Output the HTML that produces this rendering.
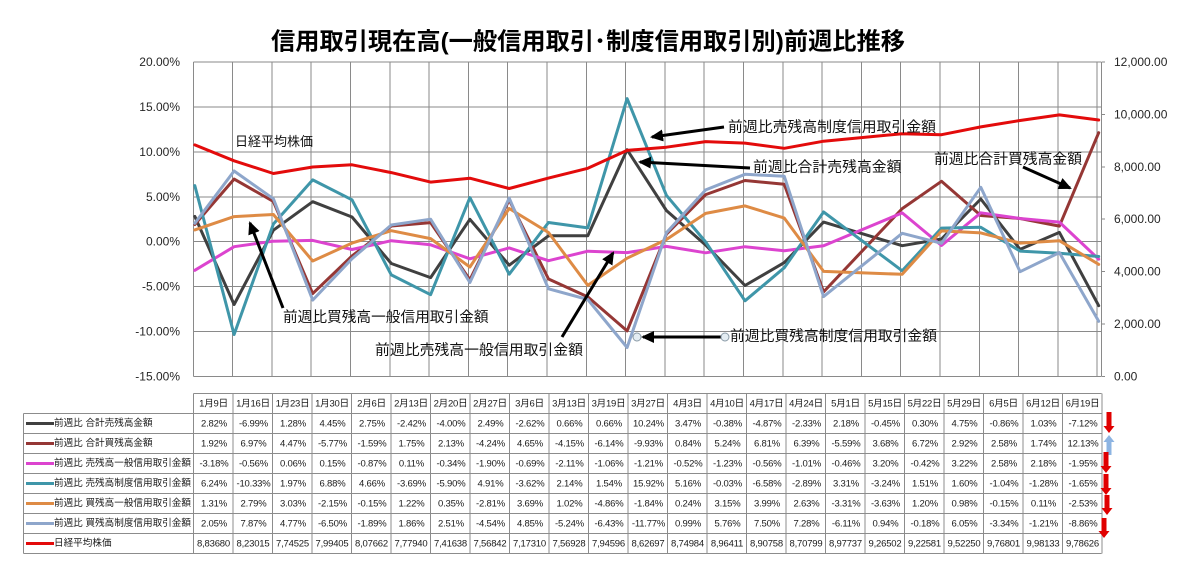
<!DOCTYPE html>
<html><head><meta charset="utf-8"><style>
html,body{margin:0;padding:0;background:#fff;}
svg{display:block;}
.ax{font-family:"Liberation Sans",sans-serif;font-size:12px;fill:#262626;}
.an{font-family:"Liberation Sans","Noto Sans CJK JP",sans-serif;font-size:14.5px;fill:#111;}
.tb{font-family:"Liberation Sans","Noto Sans CJK JP",sans-serif;font-size:9.5px;fill:#1a1a1a;letter-spacing:-0.2px;}
.lb{font-family:"Liberation Sans","Noto Sans CJK JP",sans-serif;font-size:9.6px;fill:#1a1a1a;}
.s{fill:none;stroke-width:3;stroke-linejoin:round;stroke-linecap:round;}
</style></head><body>
<svg width="1200" height="577" viewBox="0 0 1200 577" xmlns="http://www.w3.org/2000/svg">
<defs>
<marker id="ah" markerUnits="userSpaceOnUse" markerWidth="14" markerHeight="12" refX="11" refY="6" orient="auto">
<path d="M0,0 L13,6 L0,12 z" fill="#000"/>
</marker>
</defs>
<rect width="1200" height="577" fill="#fff"/>
<!-- title -->
<text x="588" y="42" text-anchor="middle" dominant-baseline="central" textLength="634" lengthAdjust="spacingAndGlyphs" style="font-family:'Liberation Sans','Noto Sans CJK JP',sans-serif;font-size:24px;font-weight:bold;fill:#000;">信用取引現在高(一般信用取引･制度信用取引別)前週比推移</text>

<!-- gridlines -->
<g stroke="#8a8a8a" stroke-width="1" fill="none" shape-rendering="crispEdges">
<path d="M193.3 62H1101M193.3 106.9H1101M193.3 151.9H1101M193.3 196.8H1101M193.3 241.7H1101M193.3 286.6H1101M193.3 331.6H1101M193.3 376.5H1101"/>
<path d="M193.3 62V376.5M232.6 62V376.5M271.9 62V376.5M311.2 62V376.5M350.5 62V376.5M389.8 62V376.5M429.1 62V376.5M468.4 62V376.5M507.7 62V376.5M547 62V376.5M586.3 62V376.5M625.6 62V376.5M664.9 62V376.5M704.2 62V376.5M743.5 62V376.5M782.8 62V376.5M822.1 62V376.5M861.4 62V376.5M900.7 62V376.5M940 62V376.5M979.3 62V376.5M1018.6 62V376.5M1057.9 62V376.5M1097.2 62V376.5M1101.5 62V376.5"/>
<path d="M1101.5 62H1105M1101.5 114.4H1105M1101.5 166.8H1105M1101.5 219.2H1105M1101.5 271.7H1105M1101.5 324.1H1105M1101.5 376.5H1105"/>
</g>

<!-- left axis labels -->
<g class="ax" text-anchor="end" dominant-baseline="central">
<text x="180" y="62">20.00%</text>
<text x="180" y="106.9">15.00%</text>
<text x="180" y="151.9">10.00%</text>
<text x="180" y="196.8">5.00%</text>
<text x="180" y="241.7">0.00%</text>
<text x="180" y="286.6">-5.00%</text>
<text x="180" y="331.6">-10.00%</text>
<text x="180" y="376.5">-15.00%</text>
</g>
<!-- right axis labels -->
<g class="ax" dominant-baseline="central">
<text x="1114" y="62">12,000.00</text>
<text x="1114" y="114.4">10,000.00</text>
<text x="1114" y="166.8">8,000.00</text>
<text x="1114" y="219.2">6,000.00</text>
<text x="1114" y="271.7">4,000.00</text>
<text x="1114" y="324.1">2,000.00</text>
<text x="1114" y="376.5">0.00</text>
</g>

<!-- series -->
<polyline class="s" stroke="#404040" points="194.8,216.4 234.1,304.5 273.4,230.2 312.7,201.7 352.0,217.0 391.3,263.5 430.6,277.6 469.9,219.3 509.2,265.2 548.5,235.8 587.8,235.8 627.1,149.7 666.4,210.5 705.7,245.1 745.0,285.5 784.3,262.6 823.6,222.1 902.2,245.7 941.5,239.0 980.8,199.0 1020.1,249.4 1059.4,232.4 1098.7,305.7"/>
<polyline class="s" stroke="#953735" points="194.8,224.5 234.1,179.1 273.4,201.5 312.7,293.6 352.0,256.0 391.3,226.0 430.6,222.6 469.9,279.8 509.2,199.9 548.5,279.0 587.8,296.9 627.1,330.9 666.4,234.2 705.7,194.6 745.0,180.5 784.3,184.3 823.6,291.9 902.2,208.6 941.5,181.3 980.8,215.5 1020.1,218.5 1059.4,226.1 1098.7,132.7"/>
<polyline class="s" stroke="#dc44cf" points="194.8,270.3 234.1,246.7 273.4,241.2 312.7,240.4 352.0,249.5 391.3,240.7 430.6,244.8 469.9,258.8 509.2,247.9 548.5,260.7 587.8,251.2 627.1,252.6 666.4,246.4 705.7,252.8 745.0,246.7 784.3,250.8 823.6,245.8 902.2,212.9 941.5,245.5 980.8,212.8 1020.1,218.5 1059.4,222.1 1098.7,259.2"/>
<polyline class="s" stroke="#3f96a9" points="194.8,185.6 234.1,334.5 273.4,224.0 312.7,179.9 352.0,199.8 391.3,274.9 430.6,294.7 469.9,197.6 509.2,274.2 548.5,222.5 587.8,227.9 627.1,98.6 666.4,195.3 705.7,242.0 745.0,300.8 784.3,267.7 823.6,212.0 902.2,270.8 941.5,228.1 980.8,227.3 1020.1,251.1 1059.4,253.2 1098.7,256.5"/>
<polyline class="s" stroke="#de8b45" points="194.8,229.9 234.1,216.6 273.4,214.5 312.7,261.0 352.0,243.1 391.3,230.7 430.6,238.6 469.9,267.0 509.2,208.5 548.5,232.5 587.8,285.4 627.1,258.2 666.4,239.5 705.7,213.4 745.0,205.9 784.3,218.1 823.6,271.4 902.2,274.3 941.5,230.9 980.8,232.9 1020.1,243.1 1059.4,240.7 1098.7,264.4"/>
<polyline class="s" stroke="#8ea6cb" points="194.8,223.3 234.1,171.0 273.4,198.8 312.7,300.1 352.0,258.7 391.3,225.0 430.6,219.2 469.9,282.5 509.2,198.1 548.5,288.8 587.8,299.5 627.1,347.5 666.4,232.8 705.7,189.9 745.0,174.3 784.3,176.3 823.6,296.6 902.2,233.3 941.5,243.3 980.8,187.3 1020.1,271.7 1059.4,252.6 1098.7,321.3"/>
<polyline class="s" stroke="#e30b0b" stroke-width="3.5" points="194.8,144.9 234.1,160.8 273.4,173.5 312.7,167.0 352.0,164.8 391.3,172.6 430.6,182.1 469.9,178.2 509.2,188.5 548.5,178.1 587.8,168.3 627.1,150.4 666.4,147.2 705.7,141.6 745.0,143.1 784.3,148.3 823.6,141.2 902.2,133.7 941.5,134.7 980.8,126.9 1020.1,120.5 1059.4,114.9 1098.7,120.0"/>

<!-- annotations -->
<g class="an" dominant-baseline="central">
<text x="235" y="141.5" style="font-size:13px" textLength="78" lengthAdjust="spacingAndGlyphs">日経平均株価</text>
<text x="728" y="128" textLength="208" lengthAdjust="spacingAndGlyphs">前週比売残高制度信用取引金額</text>
<text x="753" y="168" textLength="148.5" lengthAdjust="spacingAndGlyphs">前週比合計売残高金額</text>
<text x="934" y="160" textLength="148" lengthAdjust="spacingAndGlyphs">前週比合計買残高金額</text>
<text x="283" y="318" textLength="205.6" lengthAdjust="spacingAndGlyphs">前週比買残高一般信用取引金額</text>
<text x="375" y="351" textLength="208" lengthAdjust="spacingAndGlyphs">前週比売残高一般信用取引金額</text>
<text x="730" y="337" textLength="207" lengthAdjust="spacingAndGlyphs">前週比買残高制度信用取引金額</text>
</g>
<g stroke="#000" stroke-width="3" fill="none" marker-end="url(#ah)">
<line x1="724" y1="127" x2="652" y2="137"/>
<line x1="750" y1="168" x2="640" y2="162"/>
<line x1="1023" y1="167" x2="1070" y2="188"/>
<line x1="283" y1="308" x2="250" y2="223"/>
<line x1="562" y1="337" x2="613" y2="253"/>
<line x1="724" y1="337" x2="643" y2="337"/>
</g>
<circle cx="725" cy="337" r="4" fill="#e4edf3" stroke="#8a9aa6" stroke-width="1"/>
<circle cx="637" cy="337" r="4" fill="#e4edf3" stroke="#8a9aa6" stroke-width="1"/>

<!-- data table -->
<g stroke="#8c8c8c" stroke-width="1" fill="none" shape-rendering="crispEdges">
<path d="M193.3 393.5H1101.7M23.3 413.5H1101.7M23.3 433.5H1101.7M23.3 453.5H1101.7M23.3 473.5H1101.7M23.3 493.5H1101.7M23.3 513.5H1101.7M23.3 533.5H1101.7M23.3 553.5H1101.7"/>
<path d="M23.5 413.5V553.5M193.3 393.5V553.5M232.8 393.5V553.5M272.3 393.5V553.5M311.8 393.5V553.5M351.3 393.5V553.5M390.8 393.5V553.5M430.3 393.5V553.5M469.8 393.5V553.5M509.3 393.5V553.5M548.8 393.5V553.5M588.3 393.5V553.5M627.8 393.5V553.5M667.3 393.5V553.5M706.8 393.5V553.5M746.3 393.5V553.5M785.8 393.5V553.5M825.3 393.5V553.5M864.8 393.5V553.5M904.3 393.5V553.5M943.8 393.5V553.5M983.3 393.5V553.5M1022.8 393.5V553.5M1062.3 393.5V553.5M1101.8 393.5V553.5"/>
</g>
<!-- legend keys -->
<g stroke-width="3">
<line x1="26" y1="423.5" x2="54" y2="423.5" stroke="#404040"/>
<line x1="26" y1="443.5" x2="54" y2="443.5" stroke="#953735"/>
<line x1="26" y1="463.5" x2="54" y2="463.5" stroke="#dc44cf"/>
<line x1="26" y1="483.5" x2="54" y2="483.5" stroke="#3f96a9"/>
<line x1="26" y1="503.5" x2="54" y2="503.5" stroke="#de8b45"/>
<line x1="26" y1="523.5" x2="54" y2="523.5" stroke="#8ea6cb"/>
<line x1="26" y1="543.5" x2="54" y2="543.5" stroke="#e30b0b"/>
</g>
<g class="lb" dominant-baseline="central">
<text x="54" y="423.5">前週比 合計売残高金額</text>
<text x="54" y="443.5">前週比 合計買残高金額</text>
<text x="54" y="463.5">前週比 売残高一般信用取引金額</text>
<text x="54" y="483.5">前週比 売残高制度信用取引金額</text>
<text x="54" y="503.5">前週比 買残高一般信用取引金額</text>
<text x="54" y="523.5">前週比 買残高制度信用取引金額</text>
<text x="54" y="543.5">日経平均株価</text>
</g>
<g class="tb" text-anchor="middle" dominant-baseline="central">
<text y="403.5"><tspan x="213.5">1月9日</tspan><tspan x="253">1月16日</tspan><tspan x="292.5">1月23日</tspan><tspan x="332">1月30日</tspan><tspan x="371.5">2月6日</tspan><tspan x="411">2月13日</tspan><tspan x="450.5">2月20日</tspan><tspan x="490">2月27日</tspan><tspan x="529.5">3月6日</tspan><tspan x="569">3月13日</tspan><tspan x="608.5">3月19日</tspan><tspan x="648">3月27日</tspan><tspan x="687.5">4月3日</tspan><tspan x="727">4月10日</tspan><tspan x="766.5">4月17日</tspan><tspan x="806">4月24日</tspan><tspan x="845.5">5月1日</tspan><tspan x="885">5月15日</tspan><tspan x="924.5">5月22日</tspan><tspan x="964">5月29日</tspan><tspan x="1003.5">6月5日</tspan><tspan x="1043">6月12日</tspan><tspan x="1082.5">6月19日</tspan></text>
<text y="423.5"><tspan x="214">2.82%</tspan><tspan x="253.5">-6.99%</tspan><tspan x="293">1.28%</tspan><tspan x="332.5">4.45%</tspan><tspan x="372">2.75%</tspan><tspan x="411.5">-2.42%</tspan><tspan x="451">-4.00%</tspan><tspan x="490.5">2.49%</tspan><tspan x="530">-2.62%</tspan><tspan x="569.5">0.66%</tspan><tspan x="609">0.66%</tspan><tspan x="648.5">10.24%</tspan><tspan x="688">3.47%</tspan><tspan x="727.5">-0.38%</tspan><tspan x="767">-4.87%</tspan><tspan x="806.5">-2.33%</tspan><tspan x="846">2.18%</tspan><tspan x="885.5">-0.45%</tspan><tspan x="925">0.30%</tspan><tspan x="964.5">4.75%</tspan><tspan x="1004">-0.86%</tspan><tspan x="1043.5">1.03%</tspan><tspan x="1083">-7.12%</tspan></text>
<text y="443.5"><tspan x="214">1.92%</tspan><tspan x="253.5">6.97%</tspan><tspan x="293">4.47%</tspan><tspan x="332.5">-5.77%</tspan><tspan x="372">-1.59%</tspan><tspan x="411.5">1.75%</tspan><tspan x="451">2.13%</tspan><tspan x="490.5">-4.24%</tspan><tspan x="530">4.65%</tspan><tspan x="569.5">-4.15%</tspan><tspan x="609">-6.14%</tspan><tspan x="648.5">-9.93%</tspan><tspan x="688">0.84%</tspan><tspan x="727.5">5.24%</tspan><tspan x="767">6.81%</tspan><tspan x="806.5">6.39%</tspan><tspan x="846">-5.59%</tspan><tspan x="885.5">3.68%</tspan><tspan x="925">6.72%</tspan><tspan x="964.5">2.92%</tspan><tspan x="1004">2.58%</tspan><tspan x="1043.5">1.74%</tspan><tspan x="1083">12.13%</tspan></text>
<text y="463.5"><tspan x="214">-3.18%</tspan><tspan x="253.5">-0.56%</tspan><tspan x="293">0.06%</tspan><tspan x="332.5">0.15%</tspan><tspan x="372">-0.87%</tspan><tspan x="411.5">0.11%</tspan><tspan x="451">-0.34%</tspan><tspan x="490.5">-1.90%</tspan><tspan x="530">-0.69%</tspan><tspan x="569.5">-2.11%</tspan><tspan x="609">-1.06%</tspan><tspan x="648.5">-1.21%</tspan><tspan x="688">-0.52%</tspan><tspan x="727.5">-1.23%</tspan><tspan x="767">-0.56%</tspan><tspan x="806.5">-1.01%</tspan><tspan x="846">-0.46%</tspan><tspan x="885.5">3.20%</tspan><tspan x="925">-0.42%</tspan><tspan x="964.5">3.22%</tspan><tspan x="1004">2.58%</tspan><tspan x="1043.5">2.18%</tspan><tspan x="1083">-1.95%</tspan></text>
<text y="483.5"><tspan x="214">6.24%</tspan><tspan x="253.5">-10.33%</tspan><tspan x="293">1.97%</tspan><tspan x="332.5">6.88%</tspan><tspan x="372">4.66%</tspan><tspan x="411.5">-3.69%</tspan><tspan x="451">-5.90%</tspan><tspan x="490.5">4.91%</tspan><tspan x="530">-3.62%</tspan><tspan x="569.5">2.14%</tspan><tspan x="609">1.54%</tspan><tspan x="648.5">15.92%</tspan><tspan x="688">5.16%</tspan><tspan x="727.5">-0.03%</tspan><tspan x="767">-6.58%</tspan><tspan x="806.5">-2.89%</tspan><tspan x="846">3.31%</tspan><tspan x="885.5">-3.24%</tspan><tspan x="925">1.51%</tspan><tspan x="964.5">1.60%</tspan><tspan x="1004">-1.04%</tspan><tspan x="1043.5">-1.28%</tspan><tspan x="1083">-1.65%</tspan></text>
<text y="503.5"><tspan x="214">1.31%</tspan><tspan x="253.5">2.79%</tspan><tspan x="293">3.03%</tspan><tspan x="332.5">-2.15%</tspan><tspan x="372">-0.15%</tspan><tspan x="411.5">1.22%</tspan><tspan x="451">0.35%</tspan><tspan x="490.5">-2.81%</tspan><tspan x="530">3.69%</tspan><tspan x="569.5">1.02%</tspan><tspan x="609">-4.86%</tspan><tspan x="648.5">-1.84%</tspan><tspan x="688">0.24%</tspan><tspan x="727.5">3.15%</tspan><tspan x="767">3.99%</tspan><tspan x="806.5">2.63%</tspan><tspan x="846">-3.31%</tspan><tspan x="885.5">-3.63%</tspan><tspan x="925">1.20%</tspan><tspan x="964.5">0.98%</tspan><tspan x="1004">-0.15%</tspan><tspan x="1043.5">0.11%</tspan><tspan x="1083">-2.53%</tspan></text>
<text y="523.5"><tspan x="214">2.05%</tspan><tspan x="253.5">7.87%</tspan><tspan x="293">4.77%</tspan><tspan x="332.5">-6.50%</tspan><tspan x="372">-1.89%</tspan><tspan x="411.5">1.86%</tspan><tspan x="451">2.51%</tspan><tspan x="490.5">-4.54%</tspan><tspan x="530">4.85%</tspan><tspan x="569.5">-5.24%</tspan><tspan x="609">-6.43%</tspan><tspan x="648.5">-11.77%</tspan><tspan x="688">0.99%</tspan><tspan x="727.5">5.76%</tspan><tspan x="767">7.50%</tspan><tspan x="806.5">7.28%</tspan><tspan x="846">-6.11%</tspan><tspan x="885.5">0.94%</tspan><tspan x="925">-0.18%</tspan><tspan x="964.5">6.05%</tspan><tspan x="1004">-3.34%</tspan><tspan x="1043.5">-1.21%</tspan><tspan x="1083">-8.86%</tspan></text>
<text y="543.5"><tspan x="213.5">8,83680</tspan><tspan x="253">8,23015</tspan><tspan x="292.5">7,74525</tspan><tspan x="332">7,99405</tspan><tspan x="371.5">8,07662</tspan><tspan x="411">7,77940</tspan><tspan x="450.5">7,41638</tspan><tspan x="490">7,56842</tspan><tspan x="529.5">7,17310</tspan><tspan x="569">7,56928</tspan><tspan x="608.5">7,94596</tspan><tspan x="648">8,62697</tspan><tspan x="687.5">8,74984</tspan><tspan x="727">8,96411</tspan><tspan x="766.5">8,90758</tspan><tspan x="806">8,70799</tspan><tspan x="845.5">8,97737</tspan><tspan x="885">9,26502</tspan><tspan x="924.5">9,22581</tspan><tspan x="964">9,52250</tspan><tspan x="1003.5">9,76801</tspan><tspan x="1043">9,98133</tspan><tspan x="1082.5">9,78626</tspan></text>
</g>

<!-- side arrows -->
<polygon fill="#e00000" points="1106.5,412 1111.5,412 1111.5,426 1114.5,426 1109,433 1103.5,426 1106.5,426"/>
<polygon fill="#8db4e2" points="1109,435 1114.5,442 1111.5,442 1111.5,455 1106.5,455 1106.5,442 1103.5,442"/>
<polygon fill="#e00000" points="1103.5,452 1108.5,452 1108.5,466 1111.5,466 1106,473 1100.5,466 1103.5,466"/>
<polygon fill="#e00000" points="1103.5,474 1108.5,474 1108.5,488 1111.5,488 1106,495 1100.5,488 1103.5,488"/>
<polygon fill="#e00000" points="1104.5,495 1109.5,495 1109.5,508 1112.5,508 1107,515 1101.5,508 1104.5,508"/>
<polygon fill="#e00000" points="1101.5,518 1106.5,518 1106.5,531 1109.5,531 1104,538 1098.5,531 1101.5,531"/>
</svg>
</body></html>
